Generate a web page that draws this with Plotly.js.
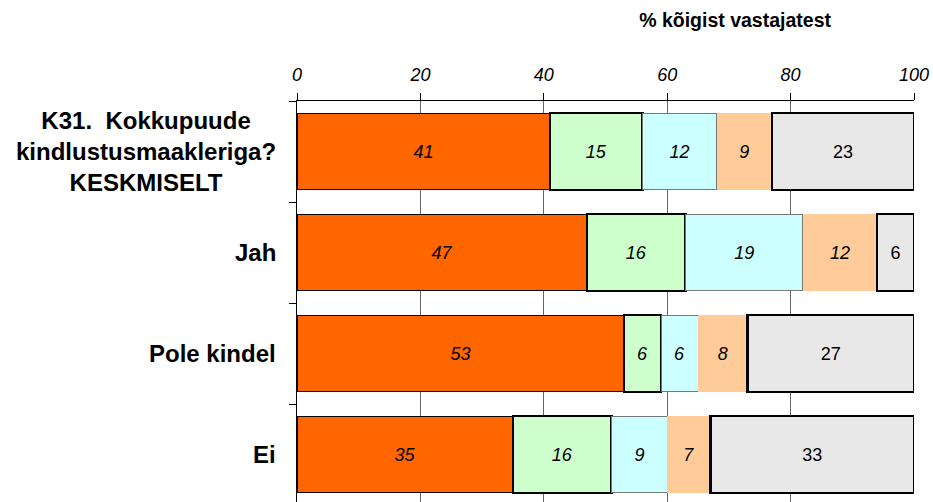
<!DOCTYPE html>
<html>
<head>
<meta charset="utf-8">
<script src="https://cdn.plot.ly/plotly-3.0.1.min.js"></script>
<style>html,body{margin:0;padding:0;background:#fff;}#chart{width:933px;height:502px;}</style>
</head>
<body>
<div id="chart"></div>
<script>
// Data
const categories = ['K31.\u00A0 Kokkupuude<br>kindlustusmaakleriga?<br>KESKMISELT', 'Jah', 'Pole kindel', 'Ei'];
const series1 = [41, 47, 53, 35];
const series2 = [15, 16, 6, 16];
const series3 = [12, 19, 6, 9];
const series4 = [9, 12, 8, 7];
const series5 = [23, 6, 27, 33];
const xTicks = [0, 20, 40, 60, 80, 100];
const titleText = '% kõigist vastajatest';

const FONT = 'Liberation Sans, Arial, sans-serif';

function barTrace(vals, color, lineColor, lineWidth, italic) {
  return {
    type: 'bar', orientation: 'h',
    x: vals, y: categories,
    marker: {color: color, line: {color: lineColor, width: lineWidth}},
    text: vals.map(String),
    textposition: 'inside', insidetextanchor: 'middle', textangle: 0,
    constraintext: 'none',
    textfont: {family: FONT, size: 18, color: '#000', style: italic ? 'italic' : 'normal'},
    hoverinfo: 'none', showlegend: false
  };
}

const data = [
  barTrace(series1, '#FF6600', '#000000', 1, true),
  barTrace(series2, '#CCFFCC', '#000000', 2.5, true),
  barTrace(series3, '#CCFFFF', '#777777', 1, true),
  barTrace(series4, '#FFCC99', '#FFCC99', 0, true),
  barTrace(series5, '#E8E8E8', '#000000', 2.5, false)
];

const annotations = categories.map((c, i) => ({
  xref: 'paper', yref: 'y', x: -0.030, y: i,
  xanchor: 'right', yanchor: 'middle', align: 'center',
  text: '<b>' + c + '</b>', showarrow: false,
  font: {family: FONT, size: 24, color: '#000'}
}));

const layout = {
  width: 933, height: 502,
  margin: {l: 297, r: 19, t: 101, b: 0, pad: 0},
  paper_bgcolor: '#fff', plot_bgcolor: '#fff',
  barmode: 'stack', bargap: 0.24,
  title: {
    text: '<b>' + titleText + '</b>',
    font: {family: FONT, size: 19.5, color: '#000'},
    xref: 'paper', x: 0.71, xanchor: 'center',
    yref: 'container', y: 0.96, yanchor: 'middle'
  },
  xaxis: {
    side: 'top', range: [0, 100], tickvals: xTicks, ticktext: xTicks.map(String),
    ticks: 'outside', ticklen: 7, tickcolor: '#000', tickwidth: 1,
    showline: true, linecolor: '#000', linewidth: 1,
    showgrid: true, gridcolor: '#666', gridwidth: 1, zeroline: false,
    tickfont: {family: FONT, size: 18, color: '#000', style: 'italic'},
    ticklabelstandoff: 5, fixedrange: true
  },
  yaxis: {
    type: 'category', categoryorder: 'array', categoryarray: categories,
    range: [3.47, -0.5],
    ticks: 'outside', ticklen: 7, tickcolor: '#000', tickson: 'boundaries',
    showticklabels: false, showgrid: false, zeroline: false,
    showline: true, linecolor: '#000', linewidth: 1, fixedrange: true
  },
  annotations: annotations
};

Plotly.newPlot('chart', data, layout, {displayModeBar: false, staticPlot: true});
</script>
</body>
</html>
